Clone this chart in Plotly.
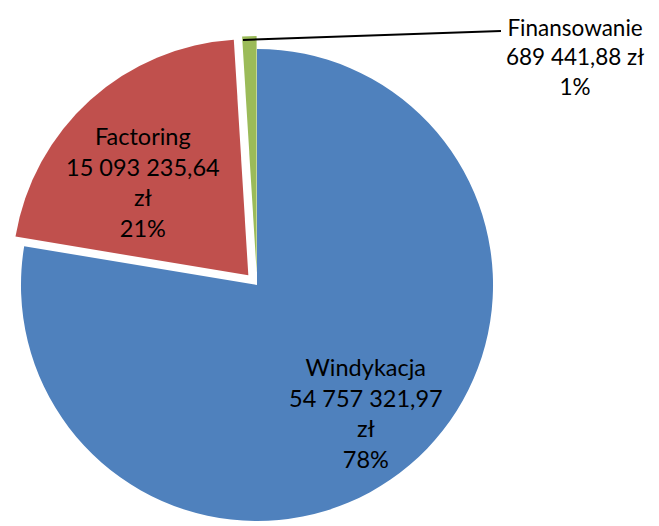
import plotly.graph_objects as go

labels = ["Windykacja", "Factoring", "Finansowanie"]
values = [54757321.97, 15093235.64, 689441.88]
colors = ["#4F81BD", "#C0504D", "#9BBB59"]
pulls = [0, 0.055, 0.055]

total = sum(values)

def fmt(v):
    return f"{v:,.2f}".replace(",", " ").replace(".", ",")

W, H = 659, 526
FONT = "Lato"
FS = 23.5

fig = go.Figure(go.Pie(
    labels=labels,
    values=values,
    marker=dict(colors=colors, line=dict(width=0)),
    pull=pulls,
    sort=False,
    direction="clockwise",
    rotation=0,
    textinfo="none",
    hoverinfo="label+value+percent",
    domain=dict(x=[0.0, 0.7557], y=[0.0, 0.9468]),
    showlegend=False,
))

# label positions (figure pixels, top-left origin)
label_pos = [(358, 405), (135, 174), (567, 49)]
label_size = [FS, FS, 22.5]
label_text = [
    f"{labels[0]}<br>{fmt(values[0])}<br>zł<br>{round(values[0] / total * 100)}%",
    f"{labels[1]}<br>{fmt(values[1])}<br>zł<br>{round(values[1] / total * 100)}%",
    f"{labels[2]}<br>{fmt(values[2])} zł<br>{round(values[2] / total * 100)}%",
]
for (px, py), t, fs in zip(label_pos, label_text, label_size):
    fig.add_annotation(
        x=px / W, y=1 - py / H, xref="paper", yref="paper",
        xanchor="center", yanchor="middle",
        text=t, showarrow=False, align="center",
        font=dict(family=FONT, size=fs, color="black"),
    )

fig.add_shape(type="line", xref="paper", yref="paper",
              x0=235 / W, y0=1 - 32 / H, x1=493 / W, y1=1 - 23 / H,
              line=dict(color="black", width=2))

fig.update_layout(
    width=W, height=H,
    margin=dict(l=0, r=0, t=0, b=0),
    paper_bgcolor="white",
    separators=", ",
)
fig.write_html("out.html")
